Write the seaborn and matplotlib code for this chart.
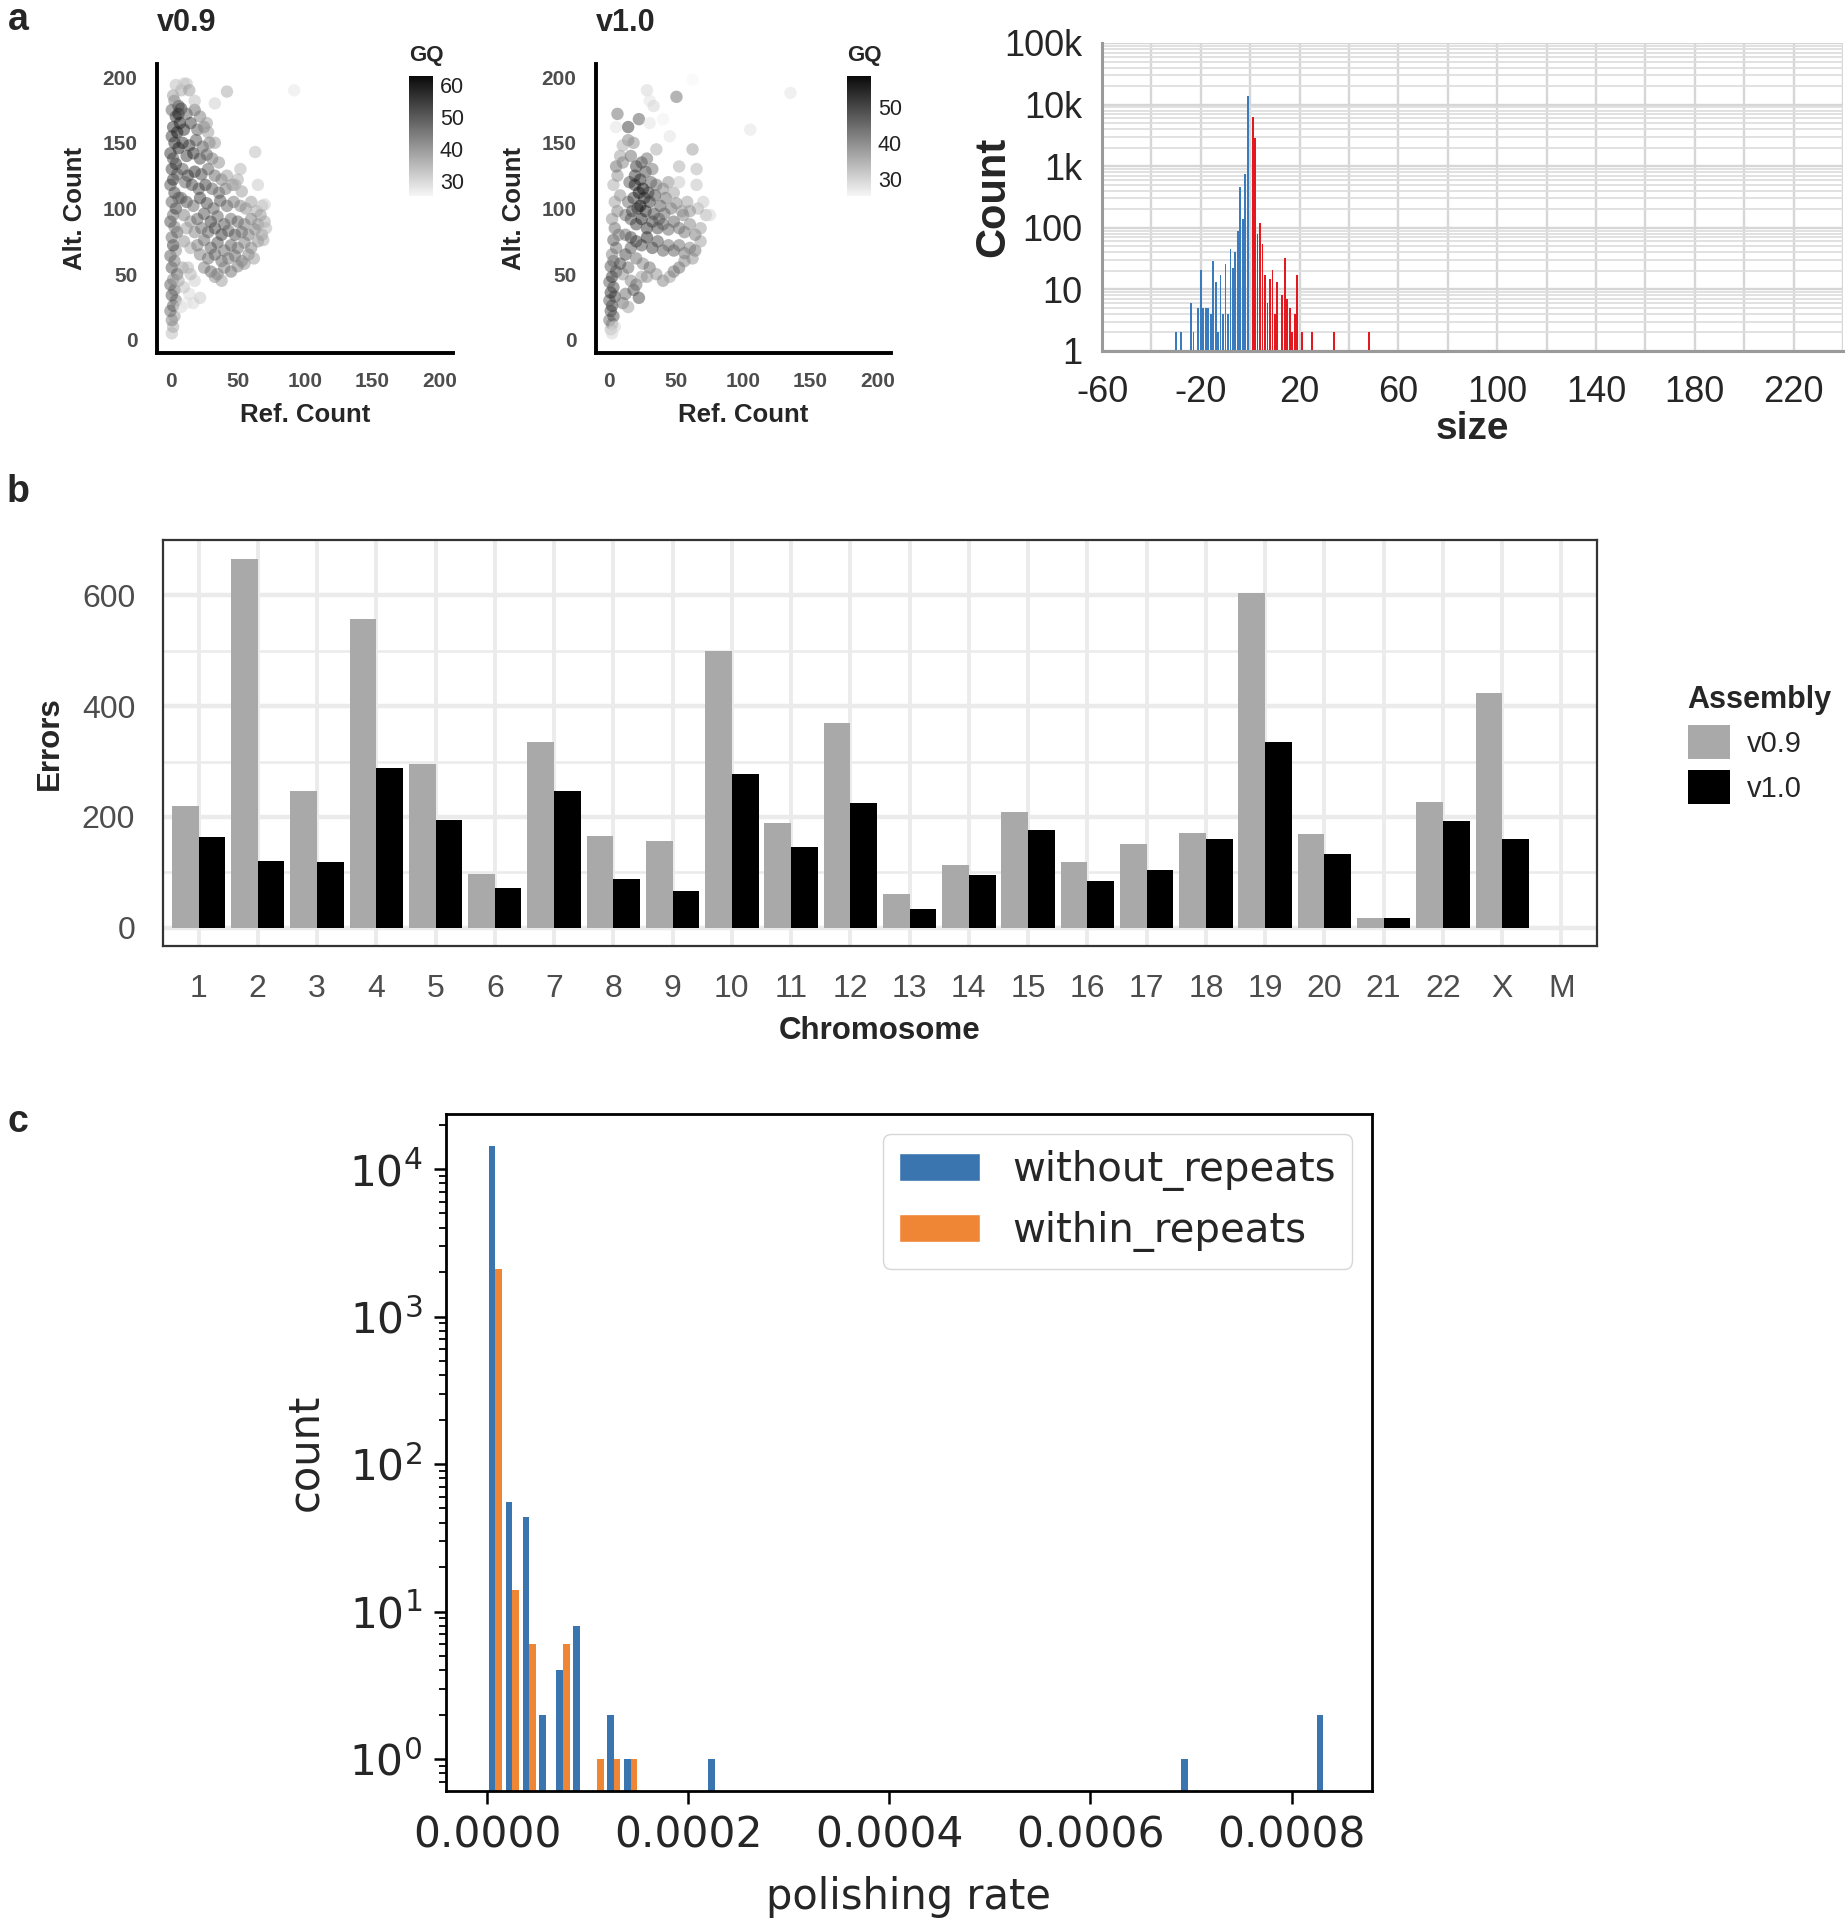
import numpy as np
import pandas as pd
import matplotlib
matplotlib.use("Agg")
import matplotlib.pyplot as plt
import seaborn as sns
from matplotlib import font_manager as fm
from matplotlib.colors import LinearSegmentedColormap, Normalize
from matplotlib.cm import ScalarMappable
from matplotlib.patches import Patch
from matplotlib.ticker import FixedLocator, FuncFormatter, LogLocator, NullFormatter

# ---------------- data: panel a, scatter v0.9 (Ref. Count, Alt. Count, GQ) ----------------
v09_ref = [1, 2, 1, 3, 0, 2, 4, 1, 3, 0, 2, 5, 1, 3, 0, 4, 2, 1, 5, 3,
           0, 2, 4, 1, 6, 3, 0, 2, 5, 1, 4, 2, 0, 6, 3, 1, 5, 2, 7, 4,
           1, 6, 3, 2, 8, 4, 10, 12, 14, 6,
           8, 12, 17, 22, 14, 10, 18, 6, 9, 15,
           8, 12, 18, 22, 15, 10, 20, 25, 28, 9, 14, 19, 24, 29, 33, 12, 17, 22, 27, 31,
           36, 9, 13, 18, 23, 28, 33, 38, 42, 11, 16, 21, 26, 31, 36, 41, 46, 50, 53, 8,
           12, 17, 22, 27, 32, 37, 42, 47, 52, 56, 60, 64, 68, 70, 10, 15, 20, 25, 30, 35,
           40, 45, 50, 55, 60, 65, 70, 67, 12, 18, 23, 28, 33, 38, 43, 48, 53, 58, 63, 68,
           71, 10, 15, 20, 25, 30, 35, 40, 45, 50, 55, 60, 65, 69, 22, 28, 33, 38, 43, 48,
           53, 58, 62, 25, 30, 35, 40, 45, 50, 55, 38, 33, 13, 42, 33, 92, 63, 52, 65, 18,
           27, 48]
v09_alt = [5, 10, 15, 18, 22, 26, 30, 34, 38, 42, 46, 50, 55, 60, 64, 68, 72, 78, 82, 86,
           90, 95, 100, 105, 108, 112, 118, 122, 126, 130, 134, 138, 142, 146, 150, 155, 158, 162, 165, 170,
           175, 178, 182, 186, 190, 194, 195, 195, 190, 172,
           25, 28, 28, 32, 35, 40, 45, 45, 55, 50,
           176, 172, 175, 170, 165, 160, 160, 162, 158, 150, 148, 152, 147, 150, 150, 140, 142, 138, 141, 138,
           135, 130, 125, 128, 126, 130, 125, 122, 125, 120, 118, 115, 118, 115, 112, 115, 118, 122, 113, 108,
           105, 102, 108, 104, 100, 106, 102, 105, 102, 100, 105, 98, 102, 103, 95, 90, 92, 96, 90, 94,
           88, 92, 90, 88, 92, 88, 90, 95, 85, 82, 85, 82, 85, 80, 83, 80, 82, 80, 84, 80,
           85, 75, 70, 72, 76, 70, 74, 68, 72, 70, 74, 70, 75, 76, 65, 62, 65, 60, 62, 64,
           60, 65, 62, 55, 52, 50, 55, 52, 56, 58, 45, 48, 55, 189, 180, 190, 143, 130, 118, 182,
           165, 118]
v09_gq = [35, 38, 45, 40, 48, 50, 45, 52, 47, 50, 44, 48, 52, 46, 50, 42, 55, 48, 50, 45,
          52, 48, 55, 50, 47, 54, 52, 57, 50, 55, 58, 52, 56, 60, 58, 55, 62, 57, 60, 58,
          50, 55, 45, 40, 38, 35, 33, 34, 40, 60,
          30, 28, 30, 33, 30, 34, 32, 38, 40, 36,
          55, 50, 48, 45, 55, 58, 50, 45, 40, 57, 55, 52, 50, 45, 40, 55, 58, 54, 50, 46,
          42, 52, 55, 57, 53, 50, 48, 45, 40, 50, 54, 52, 55, 50, 48, 46, 42, 38, 40, 50,
          52, 48, 55, 53, 50, 52, 49, 46, 44, 42, 40, 38, 35, 32, 45, 42, 50, 52, 55, 50,
          52, 48, 50, 46, 45, 42, 38, 40, 40, 44, 48, 50, 53, 55, 50, 52, 48, 46, 44, 40,
          36, 42, 38, 45, 48, 50, 52, 48, 50, 47, 45, 44, 42, 38, 45, 48, 50, 48, 46, 48,
          45, 44, 40, 45, 48, 46, 44, 47, 45, 42, 40, 42, 36, 38, 32, 28, 35, 36, 33, 35,
          40, 38]

# ---------------- data: panel a, scatter v1.0 ----------------
v10_ref = [1, 2, 0, 3, 1, 2, 0, 4, 1, 3, 0, 2, 5, 1, 3, 2, 4,
           2, 5, 3, 7, 4, 2, 6, 4, 8, 3, 6, 5, 8, 5, 6,
           10, 14, 12, 18, 22, 16, 20, 10, 24, 14, 8,
           12, 16, 20, 25, 30, 35, 40, 45, 48, 52, 28,
           12, 16, 20, 24, 28, 32, 36, 40, 44, 48, 52, 56, 60, 64, 68, 62, 56,
           12, 16, 20, 24, 28, 32, 36, 40, 44, 48, 52, 56, 60, 64, 68, 72, 66, 60, 55,
           14, 18, 22, 26, 30, 34, 38, 42, 46, 50, 54, 58,
           15, 19, 23, 27, 31, 35, 40, 44, 48,
           10, 16, 20, 24, 28, 32, 14, 18, 10,
           14, 22, 28, 30, 33, 50, 45, 62, 105, 135, 62, 65, 52, 52, 35, 30, 40, 65, 70, 75,
           21, 25, 19, 27, 23, 17, 29, 33, 37, 41]
v10_alt = [8, 12, 15, 18, 22, 26, 30, 33, 36, 40, 44, 48, 52, 56, 60, 5, 10,
           65, 70, 76, 80, 85, 92, 98, 105, 110, 118, 125, 132, 140, 162, 172,
           28, 25, 35, 38, 32, 45, 42, 50, 48, 55, 58,
           65, 70, 62, 58, 55, 50, 45, 48, 52, 55, 48,
           80, 78, 75, 72, 78, 70, 75, 68, 72, 68, 72, 66, 70, 68, 75, 62, 60,
           95, 92, 88, 92, 85, 90, 85, 88, 84, 90, 85, 82, 88, 80, 85, 95, 100, 98, 95,
           105, 108, 112, 108, 105, 110, 102, 108, 100, 104, 98, 105,
           120, 125, 122, 128, 120, 118, 115, 120, 112,
           135, 140, 132, 135, 138, 130, 152, 150, 148,
           162, 168, 190, 182, 178, 185, 155, 198, 160, 188, 145, 130, 132, 120, 145, 165, 168, 118, 105, 95,
           100, 115, 118, 98, 102, 98, 112, 96, 92, 96]
v10_gq = [35, 40, 45, 48, 50, 52, 48, 50, 53, 50, 47, 52, 50, 48, 45, 30, 30,
          42, 45, 48, 42, 45, 40, 42, 38, 40, 36, 40, 45, 38, 28, 45,
          45, 38, 45, 48, 50, 42, 45, 40, 38, 45, 50,
          50, 48, 45, 42, 45, 40, 42, 38, 44, 45, 40,
          45, 50, 52, 50, 55, 52, 50, 48, 45, 47, 45, 44, 42, 44, 38, 40, 42,
          45, 48, 52, 55, 53, 52, 50, 48, 46, 47, 45, 44, 42, 43, 38, 35, 36, 40, 42,
          45, 52, 57, 55, 53, 50, 48, 45, 44, 42, 40, 38,
          48, 52, 55, 50, 48, 45, 42, 40, 38,
          42, 45, 52, 50, 45, 44, 42, 40, 36,
          52, 48, 30, 28, 30, 45, 28, 25, 28, 28, 38, 35, 36, 32, 36, 28, 26, 33, 32, 30,
          56, 58, 55, 54, 57, 50, 52, 50, 48, 46]

# ---------------- data: panel a, indel size histogram ----------------
del_size = [-30, -28, -24, -23, -21, -20, -19, -18, -17, -16, -15, -14, -13, -12, -11,
            -10, -9, -8, -7, -6, -5, -4, -3, -2, -1]
del_count = [2, 2, 6, 2, 5, 21, 5, 5, 5, 4, 29, 13, 2, 17, 4,
             26, 4, 46, 22, 41, 88, 456, 140, 760, 14000]
ins_size = [1, 2, 3, 4, 5, 6, 7, 8, 9, 10, 11, 13, 14, 15, 16, 17, 18, 19, 21, 25, 34, 48]
ins_count = [6400, 2900, 78, 120, 54, 17, 6, 15, 21, 4, 13, 8, 32, 7, 5, 2, 4, 17, 2, 2, 2, 2]
size_ticks = [-60, -40, -20, 0, 20, 40, 60, 80, 100, 120, 140, 160, 180, 200, 220, 240]
count_ticks = [1, 10, 100, 1000, 10000, 100000]
count_labels = ["1", "10", "100", "1k", "10k", "100k"]

# ---------------- data: panel b ----------------
chromosomes = [str(i) for i in range(1, 23)] + ["X", "M"]
errors_v09 = [220, 666, 246, 557, 295, 97, 336, 165, 157, 500, 189, 369, 60,
              113, 209, 119, 151, 171, 605, 169, 18, 227, 423, 0]
errors_v10 = [163, 121, 119, 289, 194, 72, 246, 88, 66, 277, 145, 225, 34,
              95, 176, 84, 104, 161, 335, 133, 18, 192, 161, 0]

# ---------------- data: panel c ----------------
without_rate = [0.0000084, 0.0000252, 0.0000420, 0.0000588, 0.0000756, 0.0000924,
                0.0001260, 0.0001428, 0.0002268, 0.0006972, 0.0008316]
without_count = [14400, 55, 44, 2, 4, 8, 2, 1, 1, 1, 2]
within_rate = [0.0000084, 0.0000252, 0.0000420, 0.0000756, 0.0001092, 0.0001260, 0.0001428]
within_count = [2100, 14, 6, 6, 1, 1, 1]
rate_ticks = [0.0, 0.0002, 0.0004, 0.0006, 0.0008]

# ---------------- style ----------------
sns.set_style("white")
plt.rcParams["font.family"] = ["Liberation Sans", "DejaVu Sans"]


def pick(fams):
    for f in fams:
        try:
            fm.findfont(fm.FontProperties(family=f), fallback_to_default=False)
            return f
        except Exception:
            pass
    return "DejaVu Sans"


NARROW = pick(["Liberation Sans Narrow", "Liberation Sans"])
HAS_NARROW = NARROW == "Liberation Sans Narrow"
NS = 29 if HAS_NARROW else 26

W, H = 1846, 1920
fig = plt.figure(figsize=(W / 100, H / 100), dpi=100)


def box(l, t, r, b):
    return [l / W, 1 - b / H, (r - l) / W, (b - t) / H]


gq_cmap = LinearSegmentedColormap.from_list("gq", ["#F6F6F6", "#0A0A0A"])
AXT = "#4D4D4D"


def scatter_panel(ax, cax, ref, alt, gq, vmin, vmax, cticks, title, tx):
    df = pd.DataFrame({"ref": ref, "alt": alt, "gq": gq})
    norm = Normalize(vmin, vmax)
    sns.scatterplot(data=df, x="ref", y="alt", hue="gq", palette=gq_cmap, hue_norm=norm,
                    s=80, alpha=0.5, linewidth=0, legend=False, ax=ax)
    ax.set_xlim(-10, 210)
    ax.set_ylim(-10, 210)
    ax.set_xticks([0, 50, 100, 150, 200])
    ax.set_yticks([0, 50, 100, 150, 200])
    for s in ["top", "right"]:
        ax.spines[s].set_visible(False)
    for s in ["left", "bottom"]:
        ax.spines[s].set_linewidth(2.8)
        ax.spines[s].set_color("black")
    ax.tick_params(axis="both", length=9, width=2.8, color="#333333", labelsize=15,
                   labelcolor=AXT, pad=5)
    for lab in ax.get_xticklabels() + ax.get_yticklabels():
        lab.set_fontweight("bold")
    ax.set_xlabel("Ref. Count", fontsize=18.5, fontweight="bold", labelpad=8)
    ax.set_ylabel("Alt. Count", fontsize=18.5, fontweight="bold", labelpad=11)
    sm = ScalarMappable(norm=norm, cmap=gq_cmap)
    cb = fig.colorbar(sm, cax=cax)
    cb.outline.set_visible(False)
    cb.set_ticks(cticks)
    cax.tick_params(direction="in", color="white", length=5, width=1.5, left=True,
                    right=True, labelsize=15.5, labelcolor="#222222", pad=5)
    fig.text(tx, 1 - 23 / H, title, fontsize=22, fontweight="bold", ha="left", va="center")
    pos = cax.get_position()
    fig.text(pos.x0, 1 - 55 / H, "GQ", fontsize=16, fontweight="bold", ha="left", va="center")


ax1 = fig.add_axes(box(157, 64, 453, 353))
cax1 = fig.add_axes(box(409, 76, 433, 196))
scatter_panel(ax1, cax1, v09_ref, v09_alt, v09_gq, 25.4, 62.7, [30, 40, 50, 60], "v0.9", 157 / W)

ax2 = fig.add_axes(box(596, 64, 891, 353))
cax2 = fig.add_axes(box(847, 76, 871, 196))
scatter_panel(ax2, cax2, v10_ref, v10_alt, v10_gq, 25.3, 58.5, [30, 40, 50], "v1.0", 596 / W)

# ---------------- panel a: size histogram ----------------
axh = fig.add_axes(box(1102, 43, 1843, 351))
df_size = pd.DataFrame({
    "size": del_size + ins_size,
    "count": del_count + ins_count,
    "kind": ["del"] * len(del_size) + ["ins"] * len(ins_size),
})
sns.histplot(data=df_size, x="size", weights="count", hue="kind", discrete=True, shrink=0.72,
             palette={"del": "#3A7BBE", "ins": "#E3191F"}, alpha=1, linewidth=0,
             legend=False, ax=axh)
axh.set_yscale("log")
axh.set_ylim(1, 1e5)
axh.set_xlim(-60, 240)
axh.set_axisbelow(True)
axh.yaxis.set_major_locator(FixedLocator(count_ticks))
axh.yaxis.set_major_formatter(FuncFormatter(lambda v, p: count_labels[count_ticks.index(int(round(v)))]
                                            if int(round(v)) in count_ticks else ""))
axh.yaxis.set_minor_locator(LogLocator(base=10, subs=np.arange(2, 10)))
axh.yaxis.set_minor_formatter(NullFormatter())
axh.xaxis.set_major_locator(FixedLocator(size_ticks))
axh.xaxis.set_major_formatter(FuncFormatter(lambda v, p: f"{int(v)}" if (int(v) + 60) % 40 == 0 and v < 240 else ""))
axh.grid(True, which="major", axis="both", color="#D6D6D6", lw=1.7)
axh.grid(True, which="minor", axis="y", color="#DEDEDE", lw=1.3)
for s in ["top", "right"]:
    axh.spines[s].set_visible(False)
for s in ["left", "bottom"]:
    axh.spines[s].set_color("#9A9A9A")
    axh.spines[s].set_linewidth(2.2)
axh.tick_params(axis="x", which="major", length=15, width=1.6, color="#9A9A9A", pad=2)
axh.tick_params(axis="y", which="major", length=8, width=1.6, color="#9A9A9A", pad=6)
axh.tick_params(axis="y", which="minor", length=4, width=1.2, color="#9A9A9A")
for lab in axh.get_xticklabels() + axh.get_yticklabels():
    lab.set_fontfamily(NARROW)
    lab.set_fontsize(NS)
axh.set_xlabel("size", fontsize=NS + 2, fontweight="bold", family=NARROW, labelpad=1)
axh.set_ylabel("Count", fontsize=NS + 4, fontweight="bold", family=NARROW, labelpad=-6)

# ---------------- panel b ----------------
axb = fig.add_axes(box(163, 540, 1597, 946))
df_err = pd.DataFrame({
    "Chromosome": chromosomes * 2,
    "Errors": errors_v09 + errors_v10,
    "Assembly": ["v0.9"] * len(chromosomes) + ["v1.0"] * len(chromosomes),
})
sns.barplot(data=df_err, x="Chromosome", y="Errors", hue="Assembly", order=chromosomes,
            palette={"v0.9": "#A9A9A9", "v1.0": "#000000"}, width=0.9, saturation=1,
            linewidth=0, errorbar=None, legend=False, ax=axb)
axb.set_xlim(-0.6, len(chromosomes) - 0.4)
axb.set_ylim(-33, 700)
axb.set_yticks([0, 200, 400, 600])
axb.yaxis.set_minor_locator(FixedLocator([100, 300, 500]))
axb.set_axisbelow(True)
axb.grid(True, which="major", axis="y", color="#EBEBEB", lw=3.2)
axb.grid(True, which="minor", axis="y", color="#EBEBEB", lw=1.8)
axb.grid(True, which="major", axis="x", color="#EBEBEB", lw=2.8)
for s in axb.spines.values():
    s.set_color("#333333")
    s.set_linewidth(1.6)
axb.tick_params(axis="both", which="major", length=11, width=2.4, color="#333333",
                labelsize=23, labelcolor=AXT, pad=9)
axb.tick_params(axis="y", which="minor", length=0)
axb.set_xlabel("Chromosome", fontsize=22.5, fontweight="bold", labelpad=9)
axb.set_ylabel("Errors", fontsize=22.5, fontweight="bold", labelpad=12)
handles = [Patch(facecolor="#A9A9A9", edgecolor="none"), Patch(facecolor="#000000", edgecolor="none")]
axb.legend(handles, ["v0.9", "v1.0"], title="Assembly", loc="upper left",
           bbox_to_anchor=(1.053, 0.68), frameon=False, fontsize=21,
           title_fontproperties={"weight": "bold", "size": 22}, handlelength=1.45,
           handleheight=1.45, handletextpad=0.6, labelspacing=0.35, borderpad=0,
           alignment="left")

# ---------------- panel c ----------------
axc = fig.add_axes(box(446, 1114, 1372, 1791))
df_pol = pd.DataFrame({
    "rate": without_rate + within_rate,
    "count": without_count + within_count,
    "group": ["without_repeats"] * len(without_rate) + ["within_repeats"] * len(within_rate),
})
BLUE, ORANGE = "#3A75B0", "#EF8636"
sns.histplot(data=df_pol, x="rate", weights="count", hue="group",
             hue_order=["without_repeats", "within_repeats"], bins=50, binrange=(0, 0.00084),
             multiple="dodge", shrink=0.8, palette={"without_repeats": BLUE, "within_repeats": ORANGE},
             alpha=1, linewidth=0, legend=False, ax=axc)
axc.set_yscale("log")
axc.set_ylim(0.607, 23600)
axc.set_xlim(-0.0000408, 0.00088)
axc.set_xticks(rate_ticks)
axc.xaxis.set_major_formatter(FuncFormatter(lambda v, p: f"{v:.4f}"))
axc.yaxis.set_major_locator(LogLocator(base=10))
axc.yaxis.set_minor_locator(LogLocator(base=10, subs=np.arange(2, 10)))
axc.yaxis.set_minor_formatter(NullFormatter())
for s in axc.spines.values():
    s.set_color("black")
    s.set_linewidth(2.0)
axc.tick_params(axis="both", which="major", length=9, width=1.8, color="black",
                labelsize=30.5, pad=8, left=True, bottom=True)
axc.tick_params(axis="y", which="minor", length=5, width=1.3, color="black", left=True)
for lab in axc.get_xticklabels() + axc.get_yticklabels():
    lab.set_fontfamily("DejaVu Sans")
axc.set_xlabel("polishing rate", fontsize=30, family="DejaVu Sans", labelpad=14)
axc.set_ylabel("count", fontsize=30, family="DejaVu Sans", labelpad=16)
axc.legend([Patch(facecolor=BLUE), Patch(facecolor=ORANGE)], ["without_repeats", "within_repeats"],
           loc="upper right", prop={"family": "DejaVu Sans", "size": 29}, framealpha=0.8,
           edgecolor="#CCCCCC")

# ---------------- panel letters ----------------
for letter, y in [("a", 20), ("b", 492), ("c", 1122)]:
    fig.text(18 / W, 1 - y / H, letter, fontsize=27, fontweight="bold", ha="center", va="center")

fig.savefig("out.png", dpi=100)
